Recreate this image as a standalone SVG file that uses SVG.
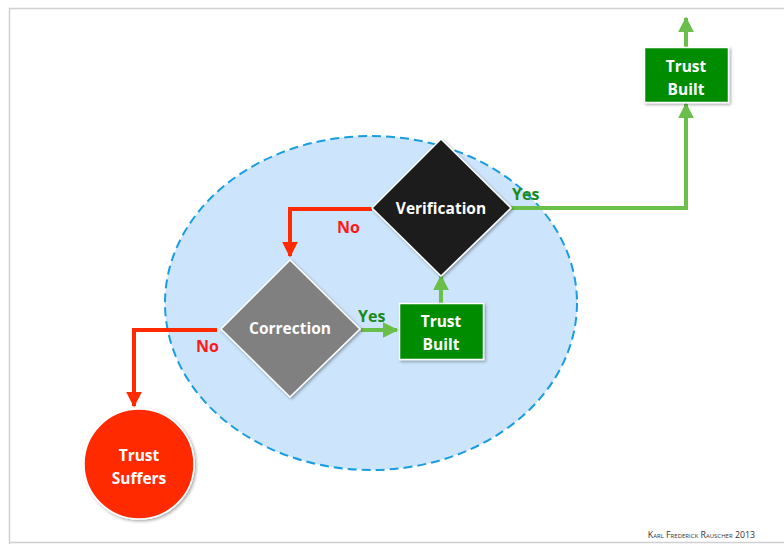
<svg xmlns="http://www.w3.org/2000/svg" width="784" height="544" viewBox="0 0 784 544">
  <style>
    .lbl { font-family: "Open Sans", "Liberation Sans", sans-serif; font-weight: bold; fill: #ffffff; text-anchor: middle; }
    .node { stroke: #ffffff; stroke-width: 1.5; filter: url(#shadow); }
    .red { stroke: #ff2a00; stroke-width: 4; fill: none; }
    .green { stroke: #6abf4b; stroke-width: 4; fill: none; }
    .yes { font-family: "Open Sans", "Liberation Sans", sans-serif; font-weight: bold; font-size: 16px; fill: #1a8a1a; }
    .no { font-family: "Open Sans", "Liberation Sans", sans-serif; font-weight: bold; font-size: 16px; fill: #ff1a1a; }
  </style>
  <defs>
    <filter id="shadow" x="-20%" y="-20%" width="140%" height="140%">
      <feDropShadow dx="1.5" dy="1.5" stdDeviation="1.5" flood-color="#000000" flood-opacity="0.35"/>
    </filter>
    <marker id="arrRed" viewBox="0 0 10 10" refX="9" refY="5" markerWidth="4" markerHeight="4" orient="auto" markerUnits="strokeWidth">
      <path d="M0,0 L10,5 L0,10 Z" fill="#ff2a00"/>
    </marker>
    <marker id="arrGreen" viewBox="0 0 10 10" refX="9" refY="5" markerWidth="4" markerHeight="4" orient="auto" markerUnits="strokeWidth">
      <path d="M0,0 L10,5 L0,10 Z" fill="#6abf4b"/>
    </marker>
  </defs>

  <!-- page frame -->
  <rect x="0" y="0" width="784" height="544" fill="#ffffff"/>
  <path d="M9.5,544 V8.5 H784 M9.5,542.5 H784" fill="none" stroke="#d0d0d0" stroke-width="1.5"/>

  <!-- trust loop area -->
  <g id="loop">
    <ellipse cx="371" cy="303" rx="206" ry="167" fill="#cce5fc" stroke="#1a9de0" stroke-width="2" stroke-dasharray="9,5"/>
  </g>

  <!-- connectors -->
  <g id="connectors">
    <path class="red" d="M372,209 H290 V256" marker-end="url(#arrRed)"/>
    <path class="red" d="M217,330 H134 V406" marker-end="url(#arrRed)"/>
    <path class="green" d="M361,330 H397" marker-end="url(#arrGreen)"/>
    <path class="green" d="M441,303 V276" marker-end="url(#arrGreen)"/>
    <path class="green" d="M511,208 H686 V104" marker-end="url(#arrGreen)"/>
    <path class="green" d="M686,47 V18" marker-end="url(#arrGreen)"/>
    <text class="yes" x="512" y="200">Yes</text>
    <text class="no" x="337" y="233">No</text>
    <text class="yes" x="358" y="322">Yes</text>
    <text class="no" x="196" y="352">No</text>
  </g>

  <g id="verification">
    <polygon class="node" points="441,139 511,208 441,276 372,208" fill="#1f1f1f"/>
    <text class="lbl" x="441" y="214" font-size="15.5">Verification</text>
  </g>

  <g id="correction">
    <polygon class="node" points="290,260 360,329 290,397 221,329" fill="#808080"/>
    <text class="lbl" x="290" y="334" font-size="15.5">Correction</text>
  </g>

  <g id="trust-built-inner">
    <rect class="node" x="399.5" y="303.5" width="84" height="56" fill="#008c00"/>
    <text class="lbl" x="441" y="327" font-size="15.5">Trust</text>
    <text class="lbl" x="441" y="350" font-size="15.5">Built</text>
  </g>

  <g id="trust-built-outer">
    <rect class="node" x="644.5" y="47.5" width="84" height="55" fill="#008c00"/>
    <text class="lbl" x="686" y="72" font-size="15.5">Trust</text>
    <text class="lbl" x="686" y="95" font-size="15.5">Built</text>
  </g>

  <g id="trust-suffers">
    <circle class="node" cx="139" cy="464" r="55" fill="#ff2a00"/>
    <text class="lbl" x="139" y="461" font-size="15.5">Trust</text>
    <text class="lbl" x="139" y="484" font-size="15.5">Suffers</text>
  </g>

  <text x="755" y="538" text-anchor="end" font-family="Open Sans, Liberation Sans, sans-serif" font-size="8.8" fill="#333333" style="font-variant: small-caps;">Karl Frederick Rauscher  2013</text>
</svg>
